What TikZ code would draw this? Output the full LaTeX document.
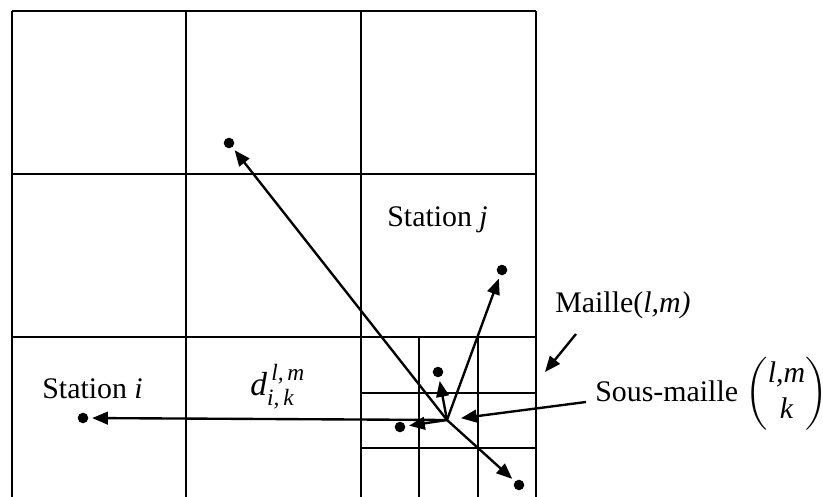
\documentclass[tikz,border=0pt]{standalone}
\usepackage{amsmath}
\usepackage{fontspec}
\setmainfont{Liberation Serif}
\usetikzlibrary{arrows.meta,positioning}

\tikzset{
  gridline/.style={black, line width=1.2pt},
  dot/.style={circle, fill=black, inner sep=0pt, minimum size=6pt},
  arr/.style={-{Triangle[length=9pt,width=7.2pt]}, line width=1.35pt, shorten >=2pt},
  lbl/.style={inner sep=0pt, anchor=base west, font=\fontsize{17}{20}\selectfont},
}

\begin{document}
\begin{tikzpicture}[x=0.2mm, y=-0.2mm]
\useasboundingbox (0,0) rectangle (823,497);

% maillage
\foreach \x in {12,186,361,536}
  \draw[gridline] (\x,11) -- (\x,497);
\foreach \y in {11,174,337}
  \draw[gridline] (12,\y) -- (536,\y);
% sous-maillage
\foreach \x in {419,478}
  \draw[gridline] (\x,337) -- (\x,497);
\foreach \y in {393,448}
  \draw[gridline] (361,\y) -- (536,\y);

% stations
\coordinate (ctr) at (447,420);
\node[dot] (pI) at (83,418) {};
\node[dot] (pJ) at (502,270) {};
\node[dot] (pA) at (229,143) {};
\node[dot] (pB) at (438,372) {};
\node[dot] (pC) at (400,427) {};
\node[dot] (pD) at (519,485) {};

\draw[arr] (ctr) -- (pI);
\draw[arr] (ctr) -- (pJ);
\draw[arr] (ctr) -- (pA);
\draw[arr] (ctr) -- (pB);
\draw[arr] (ctr) -- (pC);
\draw[arr] (ctr) -- (pD);

% textes
\node[lbl] (stI) at (42,398) {Station \textit{i}};
\node[lbl] (stJ) at (387,226) {Station \textit{j}};
\node[lbl, font=\fontsize{19}{22}\selectfont] (dist) at (250,395)
  {$\textit{d}^{\,\textit{l,\,m}}_{\textit{i,\,k}}$};
\node[lbl] (maille) at (555,312) {Maille(\textit{l,m)}};
\node[lbl] (smaille) at (595,401)
  {Sous-maille {\setlength\arraycolsep{0pt}$\begin{pmatrix}\textit{l,m}\\ \textit{k}\end{pmatrix}$}};

\coordinate (mtail) at (576,334);
\coordinate (mtip) at (545,372);
\draw[arr, shorten >=0pt] (mtail) -- (mtip);
\coordinate (smtail) at (586,402);
\draw[arr, shorten >=8pt] (smtail) -- (ctr);
\end{tikzpicture}
\end{document}
